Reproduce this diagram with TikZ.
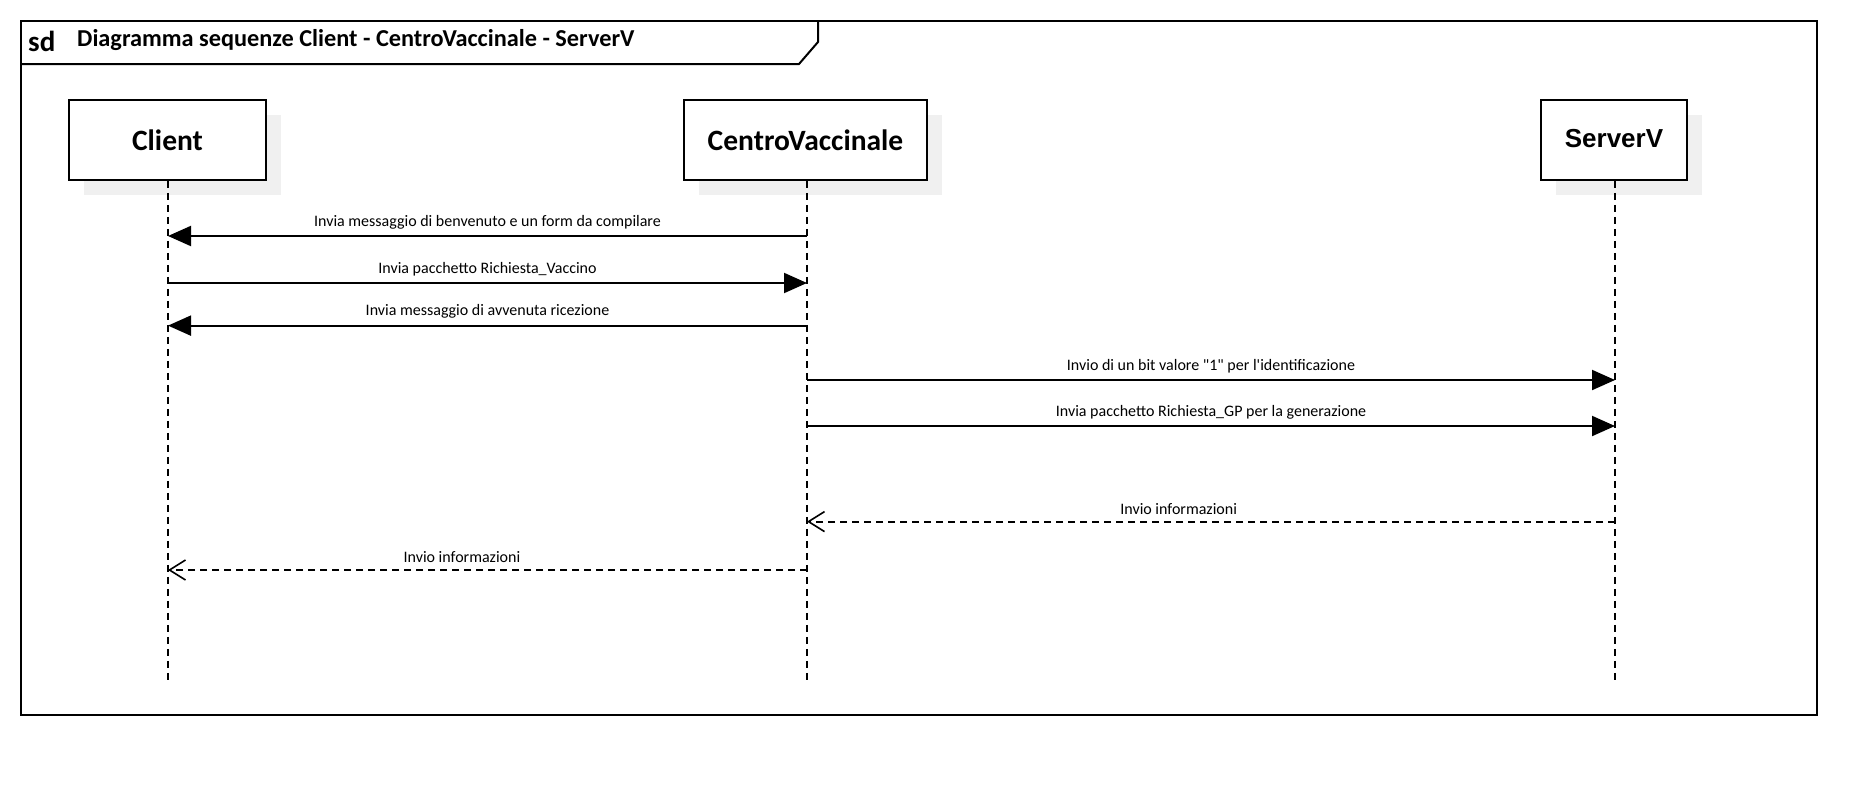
\documentclass[tikz,border=0pt]{standalone}
\usepackage{fontspec}
\setmainfont{Carlito}
\newfontfamily\labelf{Carlito}
\newfontfamily\arialf{Liberation Sans}
\usetikzlibrary{arrows.meta}
\tikzset{
  lifebox/.style={draw=black, line width=2pt, fill=white, inner sep=0pt,
    font=\bfseries\fontsize{29.5}{32}\selectfont},
  shadowbox/.style={fill=black!6, draw=none},
  lifeline/.style={line width=1.4pt, dash pattern=on 7pt off 5pt},
  syncmsg/.style={line width=2pt, -{Triangle[length=23pt, width=20pt]}},
  retmsg/.style={line width=2pt, dash pattern=on 7pt off 5pt, -{Straight Barb[length=16pt, width=20pt, line width=1.6pt]}},
  msglabel/.style={font=\labelf\fontsize{16}{18}\selectfont, above=5pt, inner sep=1pt}
}
\begin{document}
\begin{tikzpicture}[x=1pt,y=-1pt]
\useasboundingbox (0,0) rectangle (1876,788);
% frame
\draw[line width=2pt] (20.6,20.6) rectangle (1816.7,715.3);
\draw[line width=2pt] (20.6,64) -- (799,64) -- (818,42) -- (818,20.6);
\node[anchor=west, inner sep=0pt, font=\bfseries\fontsize{29}{32}\selectfont] (sd) at (28,41) {sd};
\node[anchor=west, inner sep=0pt, font=\bfseries\fontsize{24.3}{27}\selectfont] (title) at (77,40) {Diagramma sequenze Client - CentroVaccinale - ServerV};
% shadows
\fill[shadowbox] (83.5,115) rectangle (280.5,194.5);
\fill[shadowbox] (698.5,115) rectangle (941.5,194.5);
\fill[shadowbox] (1555.5,115) rectangle (1701.5,194.5);
% lifeline heads
\node[lifebox, minimum width=197pt, minimum height=79.5pt] (client) at (167.5,140.2) {Client};
\node[lifebox, minimum width=243pt, minimum height=79.5pt] (centro) at (805.5,140.2) {CentroVaccinale};
\node[lifebox, minimum width=146pt, minimum height=79.5pt, font=\arialf\bfseries\fontsize{26}{29}\selectfont] (server) at (1614,140.2) {\raisebox{3pt}{ServerV}};
% lifelines
\coordinate (clientend) at (168,684);
\coordinate (centroend) at (807,684);
\coordinate (serverend) at (1615,684);
\draw[lifeline] (client.south -| clientend) -- (clientend);
\draw[lifeline] (centro.south -| centroend) -- (centroend);
\draw[lifeline] (server.south -| serverend) -- (serverend);
% message anchor points
\foreach \n/\y in {1/236,2/283,3/325.6,4/380,5/426,6/521.6,7/570}{
  \coordinate (cl\n) at (168,\y);
  \coordinate (ce\n) at (807,\y);
  \coordinate (sv\n) at (1615,\y);
}
\draw[syncmsg] (ce1) -- (cl1) node[msglabel, midway] {Invia messaggio di benvenuto e un form da compilare};
\draw[syncmsg] (cl2) -- (ce2) node[msglabel, midway] {Invia pacchetto Richiesta\_Vaccino};
\draw[syncmsg] (ce3) -- (cl3) node[msglabel, midway] {Invia messaggio di avvenuta ricezione};
\draw[syncmsg] (ce4) -- (sv4) node[msglabel, midway] {Invio di un bit valore "1" per l'identificazione};
\draw[syncmsg] (ce5) -- (sv5) node[msglabel, midway] {Invia pacchetto Richiesta\_GP per la generazione};
\draw[retmsg] (sv6) -- (ce6) node[msglabel, pos=0.54] {Invio informazioni};
\draw[retmsg] (ce7) -- (cl7) node[msglabel, pos=0.54] {Invio informazioni};
\end{tikzpicture}
\end{document}
